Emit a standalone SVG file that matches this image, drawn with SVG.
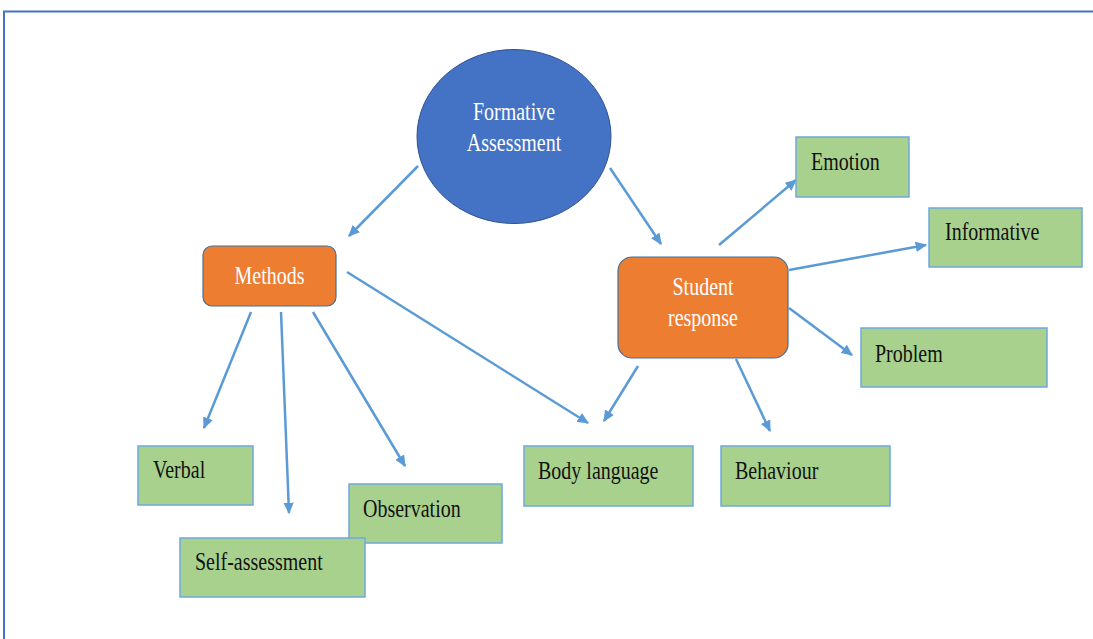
<svg xmlns="http://www.w3.org/2000/svg" width="1093" height="639" viewBox="0 0 1093 639">
  <defs>
    <marker id="arrow" viewBox="0 0 10 9" refX="9" refY="4.5" markerWidth="4.6" markerHeight="4.2" orient="auto" markerUnits="strokeWidth">
      <path d="M0,0 L10,4.5 L0,9 z" fill="#5B9BD5"/>
    </marker>
    <style>
      .frame { stroke: #4472C4; stroke-width: 2; fill: none; }
      .edge { stroke: #5B9BD5; stroke-width: 2.5; fill: none; marker-end: url(#arrow); }
      .circle { fill: #4472C4; stroke: #2F528F; stroke-width: 1; }
      .orange { fill: #ED7D31; stroke: #41719C; stroke-width: 1.2; }
      .green { fill: #A9D18E; stroke: #6FA8DC; stroke-width: 1.5; }
      .light { font-family: "Liberation Serif", "Times New Roman", serif; font-size: 20px; fill: #FFFFFF; text-anchor: middle; }
      .dark { font-family: "Liberation Serif", "Times New Roman", serif; font-size: 20px; fill: #111111; }
    </style>
  </defs>

  <rect width="1093" height="639" fill="#FFFFFF"/>

  <!-- page frame -->
  <path class="frame" d="M4,639 L4,11.5 L1093,11.5"/>

  <!-- connectors -->
  <g id="connectors">
    <line class="edge" x1="418" y1="166" x2="349" y2="236"/>
    <line class="edge" x1="610" y1="168" x2="661" y2="244"/>
    <line class="edge" x1="251" y1="312" x2="204" y2="428"/>
    <line class="edge" x1="281" y1="312" x2="289" y2="513"/>
    <line class="edge" x1="313" y1="312" x2="405" y2="466"/>
    <line class="edge" x1="347" y1="272" x2="588" y2="423"/>
    <line class="edge" x1="638" y1="366" x2="604" y2="421"/>
    <line class="edge" x1="736" y1="359" x2="770" y2="431"/>
    <line class="edge" x1="719" y1="245" x2="796" y2="180"/>
    <line class="edge" x1="789" y1="270" x2="926" y2="245"/>
    <line class="edge" x1="789" y1="308" x2="852" y2="355"/>
  </g>

  <!-- labels use a tall, narrow face: matrix(1,0,0,1.3,x,baseline) -->

  <!-- central concept -->
  <g id="formative-assessment">
    <ellipse class="circle" cx="514" cy="136.5" rx="97" ry="87"/>
    <text class="light" transform="matrix(1,0,0,1.3,514,120)">Formative</text>
    <text class="light" transform="matrix(1,0,0,1.3,514,151)">Assessment</text>
  </g>

  <g id="methods">
    <rect class="orange" x="203" y="246" width="133" height="60" rx="9"/>
    <text class="light" transform="matrix(1,0,0,1.3,269.5,284)">Methods</text>
  </g>

  <g id="student-response">
    <rect class="orange" x="618" y="257" width="170" height="101" rx="14"/>
    <text class="light" transform="matrix(1,0,0,1.3,703,295)">Student</text>
    <text class="light" transform="matrix(1,0,0,1.3,703,326)">response</text>
  </g>

  <!-- method leaves -->
  <g id="verbal">
    <rect class="green" x="138" y="446" width="115" height="59"/>
    <text class="dark" transform="matrix(1,0,0,1.3,153,478)">Verbal</text>
  </g>

  <g id="observation">
    <rect class="green" x="349" y="484" width="153" height="59"/>
    <text class="dark" transform="matrix(1,0,0,1.3,363,517)">Observation</text>
  </g>

  <g id="self-assessment">
    <rect class="green" x="180" y="538" width="185" height="59"/>
    <text class="dark" transform="matrix(1,0,0,1.3,195,570)">Self-assessment</text>
  </g>

  <g id="body-language">
    <rect class="green" x="524" y="446" width="169" height="60"/>
    <text class="dark" transform="matrix(1,0,0,1.3,538,479)">Body language</text>
  </g>

  <!-- response leaves -->
  <g id="behaviour">
    <rect class="green" x="721" y="446" width="169" height="60"/>
    <text class="dark" transform="matrix(1,0,0,1.3,735,479)">Behaviour</text>
  </g>

  <g id="emotion">
    <rect class="green" x="796" y="137" width="113" height="60"/>
    <text class="dark" transform="matrix(1,0,0,1.3,811,170)">Emotion</text>
  </g>

  <g id="informative">
    <rect class="green" x="929" y="208" width="153" height="59"/>
    <text class="dark" transform="matrix(1,0,0,1.3,945,240)">Informative</text>
  </g>

  <g id="problem">
    <rect class="green" x="861" y="328" width="186" height="59"/>
    <text class="dark" transform="matrix(1,0,0,1.3,875,362)">Problem</text>
  </g>
</svg>
